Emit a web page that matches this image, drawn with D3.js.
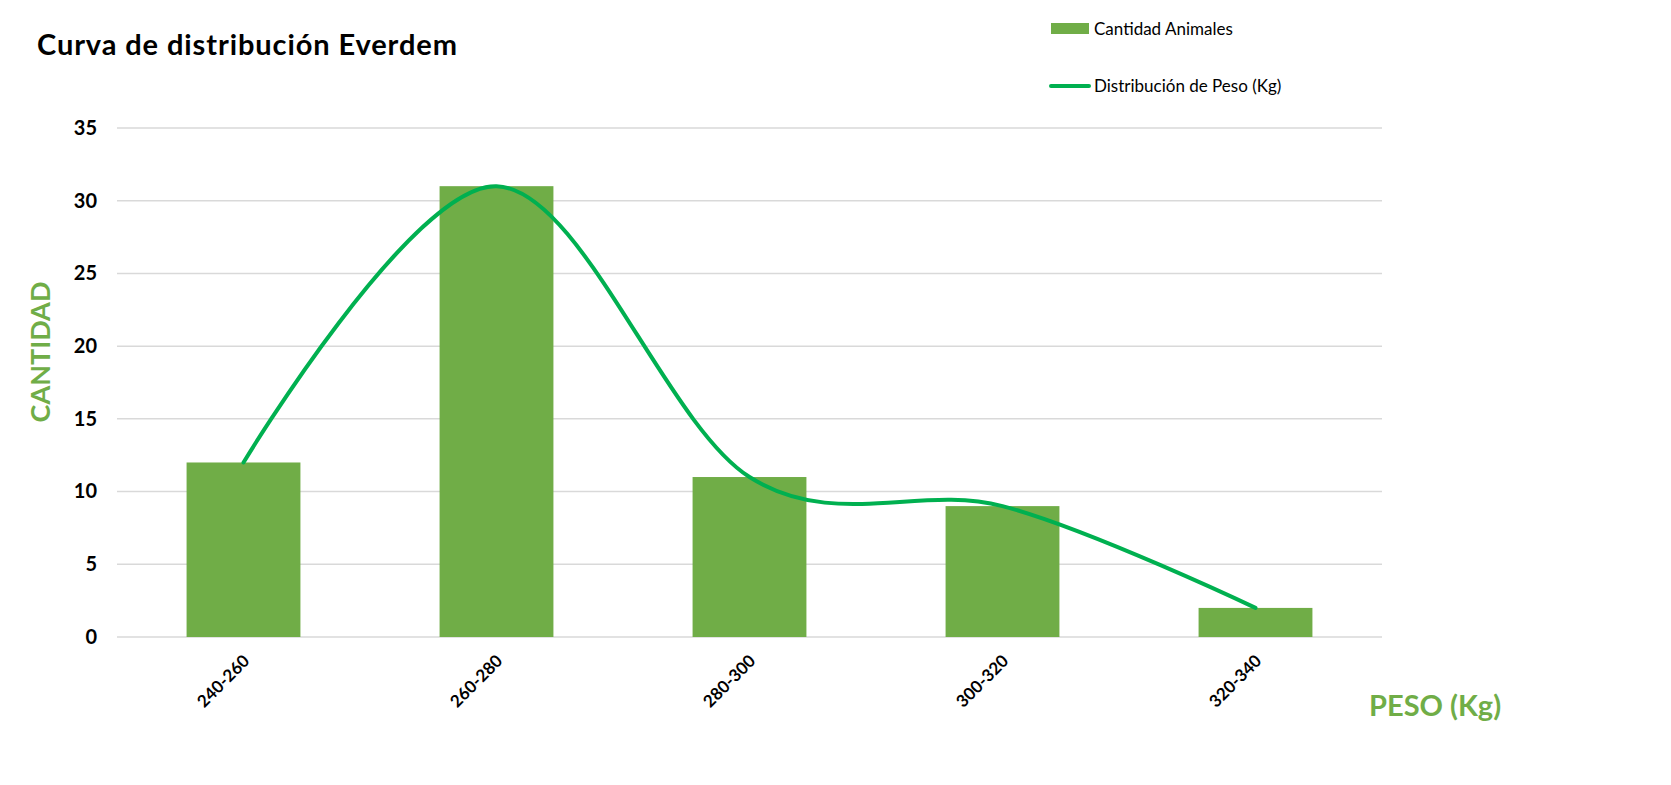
<!DOCTYPE html>
<html>
<head>
<meta charset="utf-8">
<script src="https://cdn.jsdelivr.net/npm/d3@7"></script>
<style>
  html, body { margin: 0; padding: 0; background: #fff; }
  svg { display: block; }
  text { font-family: Lato, "Open Sans", sans-serif; }
</style>
</head>
<body>
<svg id="chart" width="1671" height="785"></svg>
<script>
const categories = ["240-260", "260-280", "280-300", "300-320", "320-340"];
const cantidadAnimales = [12, 31, 11, 9, 2];
const distribucionPeso = [12, 31, 11, 9, 2];
const yTicks = [0, 5, 10, 15, 20, 25, 30, 35];
const titleText = "Curva de distribución Everdem";
const seriesNames = ["Cantidad Animales", "Distribución de Peso (Kg)"];
const yTitle = "CANTIDAD";
const xTitle = "PESO (Kg)";

const barColor = "#70AD47";
const lineColor = "#00B050";

const svg = d3.select("#chart");
const plot = { left: 117, right: 1382, top: 128, bottom: 637 };

const x = d3.scaleBand().domain(categories).range([plot.left, plot.right]).paddingInner(0.55).paddingOuter(0.275);
const y = d3.scaleLinear().domain([0, 35]).range([plot.bottom, plot.top]);

// gridlines
svg.append("g").selectAll("line").data(yTicks).join("line")
  .attr("x1", plot.left).attr("x2", plot.right)
  .attr("y1", d => y(d)).attr("y2", d => y(d))
  .attr("stroke", "#d9d9d9").attr("stroke-width", 1.5);

// y axis labels
const yAxis = d3.axisLeft(y).tickValues(yTicks).tickSize(0).tickPadding(0);
const gy = svg.append("g").attr("transform", `translate(${plot.left - 20},0)`).call(yAxis);
gy.select(".domain").remove();
gy.selectAll("text").attr("font-size", 20).attr("font-weight", "bold").attr("fill", "#000")
  .style("font-family", "Lato, sans-serif");

// bars
svg.append("g").selectAll("rect").data(categories).join("rect")
  .attr("x", d => x(d)).attr("width", x.bandwidth())
  .attr("y", (d, i) => y(cantidadAnimales[i]))
  .attr("height", (d, i) => y(0) - y(cantidadAnimales[i]))
  .attr("fill", barColor);

// smooth line
const line = d3.line()
  .x((d, i) => x(categories[i]) + x.bandwidth() / 2)
  .y(d => y(d))
  .curve(d3.curveCardinal.tension(0));
svg.append("path").datum(distribucionPeso)
  .attr("d", line).attr("fill", "none")
  .attr("stroke", lineColor).attr("stroke-width", 4).attr("stroke-linecap", "round");

// x axis labels
const xAxis = d3.axisBottom(x).tickSize(0).tickPadding(0);
const gx = svg.append("g").attr("transform", `translate(0,${plot.bottom})`).call(xAxis);
gx.select(".domain").remove();
gx.selectAll("text")
  .attr("font-size", 17).attr("font-weight", "bold").attr("fill", "#000")
  .attr("text-anchor", "end").attr("dy", null).attr("y", null)
  .attr("transform", "translate(4,22) rotate(-45)")
  .attr("dominant-baseline", "middle");

// title
svg.append("text").attr("x", 37).attr("y", 55)
  .attr("font-size", 29).attr("font-weight", "bold").attr("fill", "#000")
  .attr("letter-spacing", 0.9)
  .text(titleText);

// axis titles
svg.append("text").attr("transform", "translate(50,352) rotate(-90)")
  .attr("text-anchor", "middle").attr("font-size", 27).attr("font-weight", "bold")
  .attr("fill", barColor).text(yTitle);
svg.append("text").attr("x", 1369).attr("y", 716)
  .attr("font-size", 29).attr("font-weight", "bold").attr("fill", barColor).text(xTitle);

// legend
const lg = svg.append("g");
lg.append("rect").attr("x", 1051).attr("y", 23).attr("width", 38).attr("height", 11).attr("fill", barColor);
lg.append("text").attr("x", 1094).attr("y", 35).attr("font-size", 17).attr("fill", "#000").text(seriesNames[0]);
lg.append("line").attr("x1", 1051).attr("x2", 1089).attr("y1", 86).attr("y2", 86)
  .attr("stroke", lineColor).attr("stroke-width", 4).attr("stroke-linecap", "round");
lg.append("text").attr("x", 1094).attr("y", 92).attr("font-size", 17).attr("fill", "#000").text(seriesNames[1]);
</script>
</body>
</html>
